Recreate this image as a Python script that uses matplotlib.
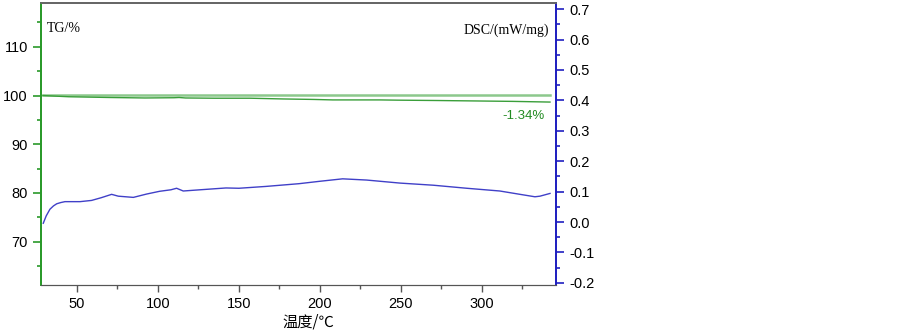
import matplotlib.pyplot as plt
from matplotlib.ticker import MultipleLocator

plt.rcParams['font.family'] = ['Liberation Sans', 'Noto Sans CJK SC', 'DejaVu Sans']

# TG curve (%)
tg_temp = [29, 45, 70, 92, 110, 113, 117, 135, 157, 177, 196, 208, 237, 248, 272, 293, 319, 342]
tg_val = [100.0, 99.75, 99.6, 99.5, 99.55, 99.6, 99.5, 99.45, 99.45, 99.3, 99.2, 99.1, 99.1, 99.05, 98.98, 98.9, 98.8, 98.66]
tg_base_temp = [29, 342]
tg_base = [100.05, 100.05]

# DSC curve (mW/mg)
dsc_temp = [29.2, 31, 33.3, 35.5, 37.5, 40, 42.6, 51.9, 59, 65, 71.4, 75.5, 84.8, 93, 101, 108,
            111.5, 115.6, 126, 142, 150, 166.5, 187, 200, 214, 228.8, 249.4, 270, 290.6, 311,
            323.5, 332.7, 335.8, 342]
dsc_val = [-0.004, 0.02, 0.042, 0.053, 0.060, 0.064, 0.067, 0.067, 0.071, 0.080, 0.091, 0.085,
           0.081, 0.092, 0.101, 0.106, 0.111, 0.102, 0.106, 0.112, 0.111, 0.117, 0.126, 0.134,
           0.142, 0.138, 0.128, 0.121, 0.111, 0.102, 0.091, 0.083, 0.085, 0.094]

fig = plt.figure(figsize=(9.03, 3.31), dpi=100)
ax = fig.add_axes([41 / 903, 46 / 331, 515 / 903, 282 / 331])
ax2 = ax.twinx()

ax.plot(tg_base_temp, tg_base, color='#8cc88c', lw=1.8)
ax.plot(tg_temp, tg_val, color='#3a9e3a', lw=1.0)
ax2.plot(dsc_temp, dsc_val, color='#4040c8', lw=1.0)

ax.set_xlim(27.8, 345.7)
ax.set_ylim(61.1, 119)
ax2.set_ylim(-0.207, 0.72)

ax.xaxis.set_major_locator(MultipleLocator(50))
ax.xaxis.set_minor_locator(MultipleLocator(25))
ax.yaxis.set_major_locator(MultipleLocator(10))
ax.yaxis.set_minor_locator(MultipleLocator(5))
ax2.yaxis.set_major_locator(MultipleLocator(0.1))
ax2.yaxis.set_minor_locator(MultipleLocator(0.05))
ax2.yaxis.set_major_formatter(plt.FuncFormatter(lambda v, p: f'{v:.1f}'))

green = '#2a9a2a'
blue = '#2020c0'
for a in (ax, ax2):
    a.spines['top'].set_color('#666666')
    a.spines['bottom'].set_color('#555555')
    a.spines['left'].set_color(green)
    a.spines['right'].set_color(blue)
    a.spines['left'].set_linewidth(1.3)
    a.spines['right'].set_linewidth(1.3)
    a.spines['top'].set_linewidth(1.3)

ax.tick_params(axis='y', which='major', colors=green, labelcolor='black', length=6, width=1.2, labelsize=10.5)
ax.tick_params(axis='y', which='minor', colors=green, length=3, width=1.2)
ax.tick_params(axis='x', which='major', colors='#555555', labelcolor='black', length=5, width=1.0, labelsize=10.5)
ax.tick_params(axis='x', which='minor', colors='#555555', length=3, width=1.0)
ax2.tick_params(axis='y', which='major', colors=blue, labelcolor='black', length=6, width=1.2, labelsize=10.5)
ax2.tick_params(axis='y', which='minor', colors=blue, length=3, width=1.2)

ax.text(0.012, 0.91, 'TG/%', transform=ax.transAxes, fontsize=10,
        family=['Liberation Serif', 'DejaVu Serif'], va='center', ha='left')
ax.text(0.987, 0.905, 'DSC/(mW/mg)', transform=ax.transAxes, fontsize=10,
        family=['Liberation Serif', 'DejaVu Serif'], va='center', ha='right')
ax.text(0.937, 0.6, '-1.34%', transform=ax.transAxes, fontsize=9.5, color='#228b22',
        va='center', ha='center')
ax.set_xlabel('温度/℃', fontsize=11, family=['Noto Sans CJK SC', 'DejaVu Sans'])
ax.xaxis.set_label_coords(0.52, -0.1)

fig.savefig('out.png', dpi=100)
